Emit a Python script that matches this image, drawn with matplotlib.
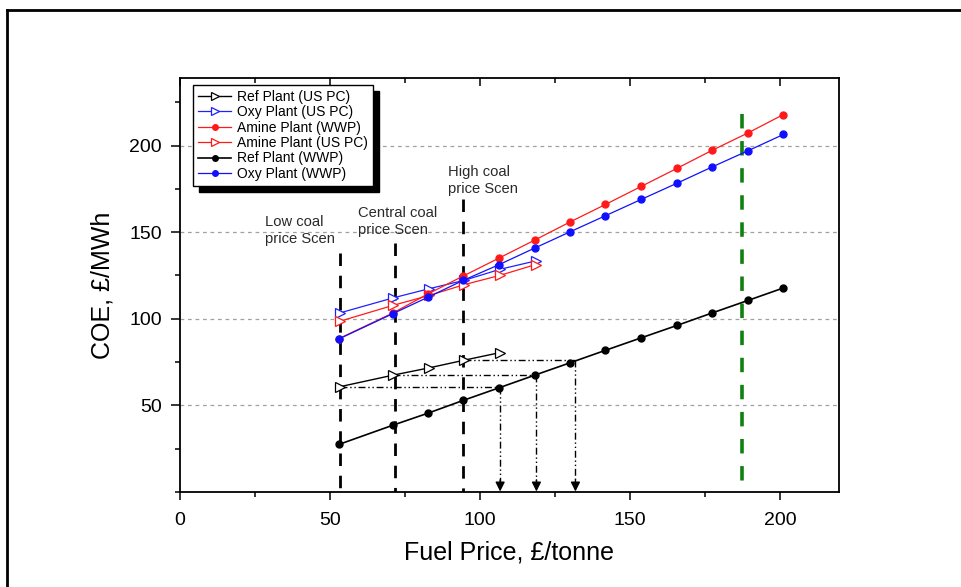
import numpy as np
import matplotlib
matplotlib.use("Agg")
import matplotlib.pyplot as plt
from matplotlib.lines import Line2D
from matplotlib.ticker import MultipleLocator

plt.rcParams["font.family"] = ["Liberation Sans", "DejaVu Sans"]

# fuel price (£/tonne) and COE (£/MWh)
x_wwp = [53.0, 71.0, 82.8, 94.4, 106.4, 118.3, 130.0, 141.8, 153.7, 165.7, 177.4, 189.3, 201.1]
ref_wwp = [27.5, 38.6, 45.6, 52.9, 60.2, 67.5, 74.6, 81.8, 89.0, 96.2, 103.4, 110.6, 117.8]
amine_wwp = [88.6, 103.4, 114.5, 124.7, 135.1, 145.5, 155.9, 166.0, 176.4, 186.9, 197.3, 207.3, 217.9]
oxy_wwp = [88.4, 103.0, 112.6, 122.2, 131.3, 140.9, 150.2, 159.5, 168.9, 178.3, 187.7, 197.0, 206.4]

x_uspc = [53.3, 71.1, 83.1, 94.7, 106.7, 118.5]
ref_uspc = [60.8, 67.5, 71.7, 76.1, 80.5]
oxy_uspc = [103.4, 112.1, 117.4, 122.2, 128.6, 133.4]
amine_uspc = [98.6, 107.8, 113.5, 119.7, 125.1, 131.3]

# scenario markers
scen_x = [53.3, 71.5, 94.3]
scen_top = [138, 144, 169]
scen_text = ["Low coal\nprice Scen", "Central coal\nprice Scen", "High coal\nprice Scen"]
scen_text_x = [28.3, 59.3, 89.3]
scen_text_y = [160, 165, 189]
green_x, green_top = 187.3, 218

# read-across guides: US PC ref cost -> equivalent WWP fuel price
guide_x0 = [53.3, 71.1, 94.7]
guide_y = [60.8, 67.5, 76.1]
guide_x1 = [106.7, 118.8, 131.8]

fig = plt.figure(figsize=(9.62, 5.87), dpi=100)
ax = fig.add_axes([0.1871, 0.1618, 0.6846, 0.7053])

for y in [50, 100, 150, 200]:
    ax.axhline(y, color="#a0a0a0", lw=0.9, ls=(0, (3, 3)), zorder=0)

# scenario lines (drawn top-down so the dash pattern starts at the top)
for sx, st in zip(scen_x, scen_top):
    ax.plot([sx, sx], [st, 0], color="black", lw=2.0, ls=(0, (4.5, 3.5)), zorder=1)
ax.plot([green_x, green_x], [green_top, 1.5], color="#108010", lw=2.6, ls=(0, (4, 3.5)), zorder=1)
for t, tx, ty in zip(scen_text, scen_text_x, scen_text_y):
    ax.text(tx, ty, t, fontsize=10.6, color="#2a2a2a", ha="left", va="top", linespacing=1.3)

# guides
dd = (0, (5, 2, 1, 2, 1, 2))
for x0, gy, x1 in zip(guide_x0, guide_y, guide_x1):
    ax.plot([x0, x1], [gy, gy], color="black", lw=1.0, ls=dd, zorder=1)
    ax.plot([x1, x1], [gy, 5], color="black", lw=1.0, ls=dd, zorder=1)
    ax.annotate("", xy=(x1, 0.3), xytext=(x1, 7),
                arrowprops=dict(arrowstyle="-|>", color="black", lw=1.0,
                                mutation_scale=14, shrinkA=0, shrinkB=0))

tri = dict(marker=">", ms=6.5, mfc="white", mew=0.9)
dot = dict(marker="o", ms=5)
ax.plot(x_uspc[:5], ref_uspc, color="black", lw=1.0, mec="black", label="Ref Plant (US PC)", **tri, zorder=3)
ax.plot(x_uspc, oxy_uspc, color="#2020ff", lw=0.9, mec="#2020ff", label="Oxy Plant (US PC)", **tri, zorder=3)
ax.plot(x_wwp, amine_wwp, color="#ff1a1a", lw=0.9, mec="#ff1a1a", mfc="#ff1a1a", label="Amine Plant (WWP)", **dot, zorder=4)
ax.plot(x_uspc, amine_uspc, color="#ff1a1a", lw=0.9, mec="#ff1a1a", label="Amine Plant (US PC)", **tri, zorder=3)
ax.plot(x_wwp, ref_wwp, color="black", lw=1.2, mec="black", mfc="black", label="Ref Plant (WWP)", **dot, zorder=4)
ax.plot(x_wwp, oxy_wwp, color="#1010ff", lw=0.9, mec="#1010ff", mfc="#1010ff", label="Oxy Plant (WWP)", **dot, zorder=4)

ax.set_xlim(0, 219.5)
ax.set_ylim(0, 239)
ax.xaxis.set_major_locator(MultipleLocator(50))
ax.xaxis.set_minor_locator(MultipleLocator(25))
ax.yaxis.set_minor_locator(MultipleLocator(25))
ax.set_yticks([50, 100, 150, 200])
ax.tick_params(axis="x", which="major", direction="out", length=6, width=1.1, top=True, labelsize=14, pad=8.5)
ax.tick_params(axis="x", which="minor", direction="out", length=3.5, width=1.1, top=True)
ax.tick_params(axis="y", which="major", direction="out", length=6.5, width=1.1, labelsize=14, pad=6.5)
ax.tick_params(axis="y", which="minor", direction="out", length=3.5, width=1.1)
for tk in ax.xaxis.get_major_ticks() + ax.xaxis.get_minor_ticks():
    tk.tick2line.set_marker(3)  # top ticks point inward
for s in ax.spines.values():
    s.set_linewidth(1.3)
ax.set_xlabel("Fuel Price, £/tonne", fontsize=18, labelpad=8)
ax.set_ylabel("COE, £/MWh", fontsize=18, labelpad=11)

leg = ax.legend(loc="upper left", bbox_to_anchor=(0.02, 0.983), borderaxespad=0, fontsize=10,
                handlelength=2.4, handletextpad=0.4, labelspacing=0.1, borderpad=0.35,
                markerscale=0.8, fancybox=False, framealpha=1, edgecolor="black",
                shadow={"ox": 4.5, "oy": -4.5, "facecolor": "black", "edgecolor": "black", "alpha": 1})
leg.get_frame().set_linewidth(1.0)

# outer frame of the original page
fig.add_artist(Line2D([0.0073, 1.0], [0.983, 0.983], color="black", lw=2))
fig.add_artist(Line2D([0.0073, 0.0073], [0.0, 0.983], color="black", lw=2))

fig.savefig("out.png", dpi=100)
